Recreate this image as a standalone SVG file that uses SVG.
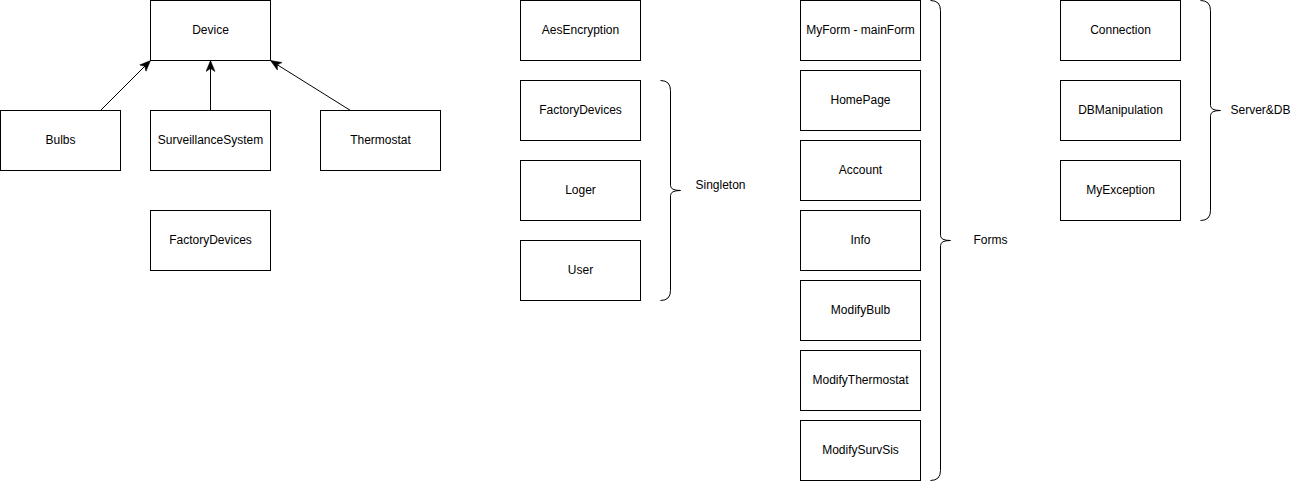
<svg xmlns="http://www.w3.org/2000/svg" width="1292" height="481" viewBox="0 0 1292 481">
<style>
.n rect{fill:#fff;stroke:#000;stroke-width:1}
text{font-family:"Liberation Sans",Arial,sans-serif;font-size:12px;fill:#000}
.n text{text-anchor:middle;dominant-baseline:central}
.e{fill:none;stroke:#000;stroke-width:1}
.b{fill:none;stroke:#000;stroke-width:1}
.l{dominant-baseline:central}
</style>
<defs>
<marker id="arr" markerUnits="userSpaceOnUse" markerWidth="12" markerHeight="10" viewBox="0 0 12 10" refX="11" refY="5" orient="auto">
<path d="M0,0.5 L11,5 L0,9.5 L3,5 Z" fill="#000" stroke="#000" stroke-width="0.5"/>
</marker>
</defs>
<rect width="1292" height="481" fill="#fff"/>
<g transform="translate(0.5,0.5)">
<g id="edges">
<line class="e" x1="100" y1="110" x2="150" y2="60" marker-end="url(#arr)"/>
<line class="e" x1="210" y1="110" x2="210" y2="60" marker-end="url(#arr)"/>
<line class="e" x1="350" y1="110" x2="270" y2="60" marker-end="url(#arr)"/>
</g>
<g id="device" class="n"><rect x="150" y="0" width="120" height="60"/><text x="210" y="29">Device</text></g>
<g id="bulbs" class="n"><rect x="0" y="110" width="120" height="60"/><text x="60" y="139">Bulbs</text></g>
<g id="surveillance" class="n"><rect x="150" y="110" width="120" height="60"/><text x="210" y="139">SurveillanceSystem</text></g>
<g id="thermostat" class="n"><rect x="320" y="110" width="120" height="60"/><text x="380" y="139">Thermostat</text></g>
<g id="factory1" class="n"><rect x="150" y="210" width="120" height="60"/><text x="210" y="239">FactoryDevices</text></g>

<g id="aes" class="n"><rect x="520" y="0" width="120" height="60"/><text x="580" y="29">AesEncryption</text></g>
<g id="factory2" class="n"><rect x="520" y="80" width="120" height="60"/><text x="580" y="109">FactoryDevices</text></g>
<g id="loger" class="n"><rect x="520" y="160" width="120" height="60"/><text x="580" y="189">Loger</text></g>
<g id="user" class="n"><rect x="520" y="240" width="120" height="60"/><text x="580" y="269">User</text></g>
<g id="singleton">
<path class="b" d="M660,80 Q670,80 670,90 L670,185 Q670,190 680,190 Q670,190 670,195 L670,290 Q670,300 660,300"/>
<text class="l" x="695" y="184">Singleton</text>
</g>

<g id="myform" class="n"><rect x="800" y="0" width="120" height="60"/><text x="860" y="29">MyForm - mainForm</text></g>
<g id="homepage" class="n"><rect x="800" y="70" width="120" height="60"/><text x="860" y="99">HomePage</text></g>
<g id="account" class="n"><rect x="800" y="140" width="120" height="60"/><text x="860" y="169">Account</text></g>
<g id="info" class="n"><rect x="800" y="210" width="120" height="60"/><text x="860" y="239">Info</text></g>
<g id="modifybulb" class="n"><rect x="800" y="280" width="120" height="60"/><text x="860" y="309">ModifyBulb</text></g>
<g id="modifythermostat" class="n"><rect x="800" y="350" width="120" height="60"/><text x="860" y="379">ModifyThermostat</text></g>
<g id="modifysurvsis" class="n"><rect x="800" y="420" width="120" height="60"/><text x="860" y="449">ModifySurvSis</text></g>
<g id="forms">
<path class="b" d="M930,0 Q940,0 940,10 L940,235 Q940,240 950,240 Q940,240 940,245 L940,470 Q940,480 930,480"/>
<text class="l" x="973" y="239">Forms</text>
</g>

<g id="connection" class="n"><rect x="1060" y="0" width="120" height="60"/><text x="1120" y="29">Connection</text></g>
<g id="dbmanipulation" class="n"><rect x="1060" y="80" width="120" height="60"/><text x="1120" y="109">DBManipulation</text></g>
<g id="myexception" class="n"><rect x="1060" y="160" width="120" height="60"/><text x="1120" y="189">MyException</text></g>
<g id="serverdb">
<path class="b" d="M1200,0 Q1210,0 1210,10 L1210,105 Q1210,110 1220,110 Q1210,110 1210,115 L1210,210 Q1210,220 1200,220"/>
<text class="l" x="1230" y="109">Server&amp;DB</text>
</g>
</g>
</svg>
